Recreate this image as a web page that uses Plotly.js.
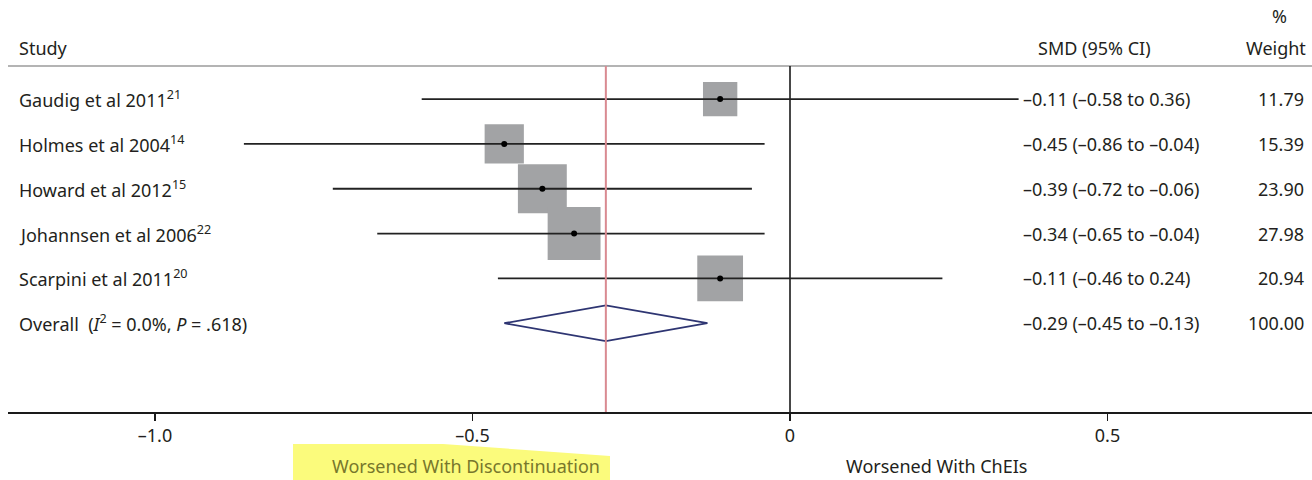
<!DOCTYPE html>
<html>
<head>
<meta charset="utf-8">
<script src="https://cdn.plot.ly/plotly-3.0.1.min.js"></script>
<style>html,body{margin:0;padding:0;background:#fff;}#chart{width:1312px;height:480px;}</style>
</head>
<body>
<div id="chart"></div>
<script>
// ---- data ----
const studies = ['Gaudig et al 2011', 'Holmes et al 2004', 'Howard et al 2012', 'Johannsen et al 2006', 'Scarpini et al 2011'];
const refs = ['21', '14', '15', '22', '20'];
const smd = [-0.11, -0.45, -0.39, -0.34, -0.11];
const ciLow = [-0.58, -0.86, -0.72, -0.65, -0.46];
const ciHigh = [0.36, -0.04, -0.06, -0.04, 0.24];
const weights = [11.79, 15.39, 23.90, 27.98, 20.94];
const overallLabel = 'Overall  (<i>I</i><sup>2</sup> = 0.0%, <i>P</i> = .618)';
const overallSmd = -0.29;
const overallLow = -0.45;
const overallHigh = -0.13;
const overallWeight = 100.00;
const tickVals = [-1, -0.5, 0, 0.5];
const tickText = ['–1.0', '–0.5', '0', '0.5'];
const headers = {study: 'Study', smd: 'SMD (95% CI)', pct: '%', weight: 'Weight'};
const bottomLabels = ['Worsened With Discontinuation', 'Worsened With ChEIs'];

// ---- layout helpers ----
const FONT = 'Noto Sans, Open Sans, sans-serif';
const FS = 18;
const TXT = '#231f20';
const W = 1312, H = 480, ML = 8, MB = 68;
const plotW = W - ML, plotH = H - MB;
const px = p => (p - ML) / plotW;          // pixel x -> paper
const py = p => 1 - p / plotH;              // pixel y -> paper
const rows = studies.map((_, i) => i);
const overallRow = studies.length;
const sepRow = -0.74, bottomRow = 6.98, headRow = -1.14, pctRow = -1.85;
const fmt = v => v.toFixed(2).replace('-', '–');

// ---- traces ----
const ciX = [], ciY = [];
rows.forEach(i => { ciX.push(ciLow[i], ciHigh[i], null); ciY.push(i, i, null); });

const traces = [
  { // boxes
    x: smd, y: rows, type: 'scatter', mode: 'markers', hoverinfo: 'skip',
    marker: {symbol: 'square', size: weights.map(w => 10 * Math.sqrt(w)), color: '#a2a3a5',
             opacity: 1, line: {width: 0}}
  },
  { // zero line
    x: [0, 0], y: [sepRow, bottomRow], type: 'scatter', mode: 'lines', hoverinfo: 'skip',
    line: {color: '#1a1a1a', width: 1.6}
  },
  { // CI lines
    x: ciX, y: ciY, type: 'scatter', mode: 'lines', hoverinfo: 'skip',
    line: {color: '#222222', width: 1.8}
  },
  { // centre dots
    x: smd, y: rows, type: 'scatter', mode: 'markers', hoverinfo: 'skip',
    marker: {symbol: 'circle', size: 6, color: '#000'}
  },
  { // diamond
    x: [overallLow, overallSmd, overallHigh, overallSmd, overallLow],
    y: [overallRow, overallRow - 0.4, overallRow, overallRow + 0.4, overallRow],
    type: 'scatter', mode: 'lines', hoverinfo: 'skip',
    line: {color: '#2e3572', width: 1.8}
  },
  { // overall line
    x: [overallSmd, overallSmd], y: [sepRow, bottomRow], type: 'scatter', mode: 'lines', hoverinfo: 'skip',
    line: {color: '#d98a91', width: 2}
  }
];

// ---- annotations ----
const ann = [];
const addText = (text, x, y, xanchor, extra) => ann.push(Object.assign({
  text, x, y, xref: 'paper', yref: 'y', xanchor, yanchor: 'middle', showarrow: false,
  font: {family: FONT, size: FS, color: TXT}
}, extra || {}));

rows.forEach(i => {
  addText(studies[i] + '<sup>' + refs[i] + '</sup>', px(17), i, 'left');
  addText(fmt(smd[i]) + ' (' + fmt(ciLow[i]) + ' to ' + fmt(ciHigh[i]) + ')', px(1021), i, 'left');
  addText(weights[i].toFixed(2), px(1306), i, 'right');
});
addText(overallLabel, px(17), overallRow, 'left');
addText(fmt(overallSmd) + ' (' + fmt(overallLow) + ' to ' + fmt(overallHigh) + ')', px(1021), overallRow, 'left');
addText(overallWeight.toFixed(2), px(1306), overallRow, 'right');

addText(headers.study, px(17), headRow, 'left');
addText(headers.smd, px(1094), headRow, 'center');
addText(headers.weight, px(1308), headRow, 'right');
addText(headers.pct, px(1279), pctRow, 'center');

ann.push({text: bottomLabels[0], x: px(466), y: py(466), xref: 'paper', yref: 'paper',
  xanchor: 'center', yanchor: 'middle', showarrow: false,
  font: {family: FONT, size: FS, color: '#77772c'}});
ann.push({text: bottomLabels[1], x: px(936), y: py(466), xref: 'paper', yref: 'paper',
  xanchor: 'center', yanchor: 'middle', showarrow: false,
  font: {family: FONT, size: FS, color: TXT}});

// ---- shapes ----
const shapes = [
  {type: 'line', xref: 'paper', yref: 'y', x0: 0, x1: 1, y0: sepRow, y1: sepRow,
   line: {color: '#b4b4b4', width: 2}, layer: 'below'},
  {type: 'path', xref: 'paper', yref: 'paper', layer: 'below',
   path: 'M' + px(293) + ',' + py(444) + ' L' + px(443) + ',' + py(444) + ' L' + px(610) + ',' + py(456) +
         ' L' + px(610) + ',' + py(482) + ' L' + px(293) + ',' + py(482) + ' Z',
   fillcolor: '#fbfb7c', line: {width: 0}}
];

const layout = {
  width: W, height: H,
  margin: {l: ML, r: 0, t: 0, b: MB, pad: 0},
  paper_bgcolor: '#fff', plot_bgcolor: '#fff',
  showlegend: false,
  xaxis: {
    range: [(ML - 790) / 635, (W - 790) / 635],
    tickvals: tickVals, ticktext: tickText,
    showgrid: false, zeroline: false, showline: true, linecolor: '#1a1a1a', linewidth: 1.6,
    ticks: 'outside', ticklen: 7, tickwidth: 1.6, tickcolor: '#1a1a1a',
    tickfont: {family: FONT, size: FS, color: TXT}, fixedrange: true
  },
  yaxis: {range: [bottomRow, -2.21], visible: false, fixedrange: true},
  annotations: ann,
  shapes: shapes
};

Plotly.newPlot('chart', traces, layout, {displayModeBar: false, staticPlot: true});
</script>
</body>
</html>
